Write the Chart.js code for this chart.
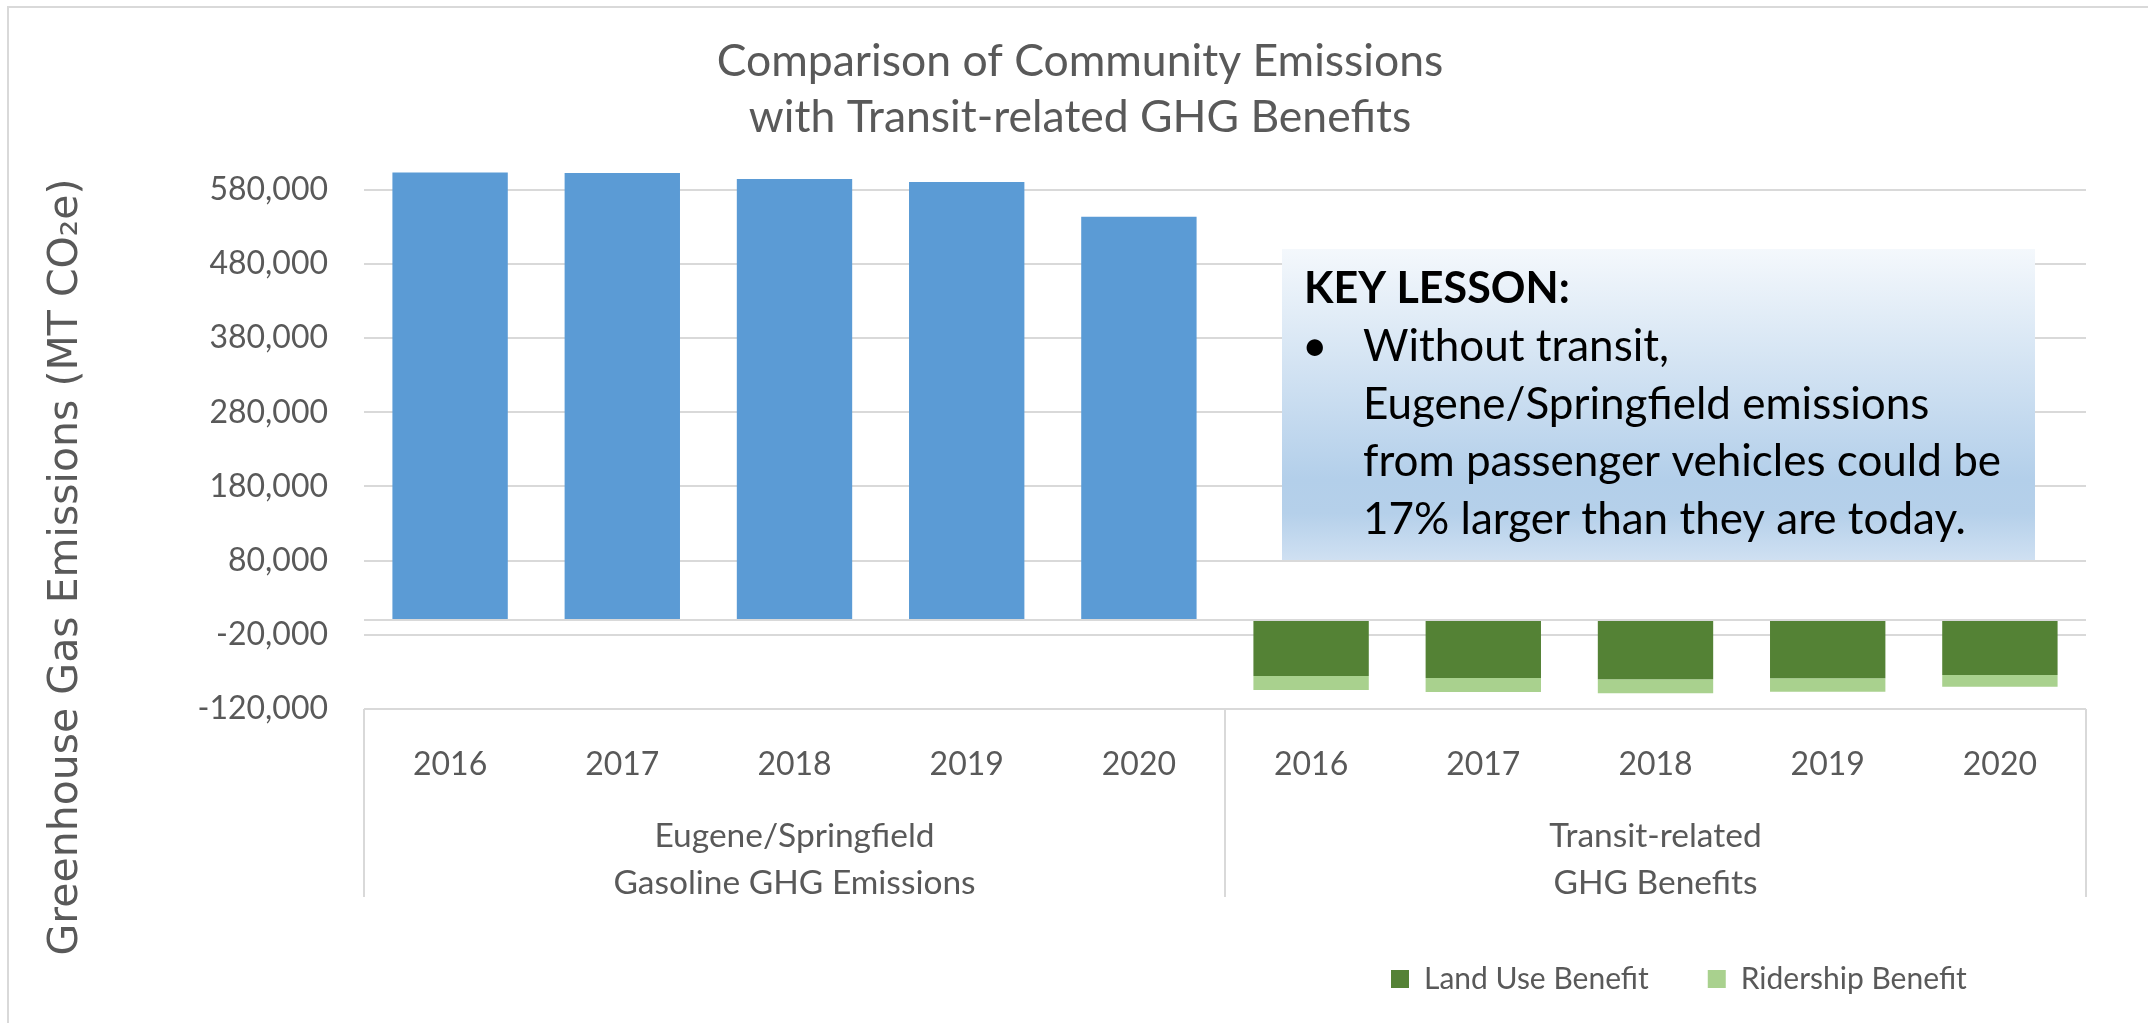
<!DOCTYPE html>
<html>
<head>
<meta charset="utf-8">
<script src="https://cdn.jsdelivr.net/npm/chart.js@4.4.1/dist/chart.umd.min.js"></script>
<style>
html, body { margin: 0; padding: 0; background: #fff; }
#wrap { position: relative; width: 2148px; height: 1023px; }
</style>
</head>
<body>
<div id="wrap"><canvas id="ghgChart"></canvas></div>
<script>
const years = ['2016', '2017', '2018', '2019', '2020', '2016', '2017', '2018', '2019', '2020'];
const groupLabels = ['', '', ['Eugene/Springfield', 'Gasoline GHG Emissions'], '', '', '', '', ['Transit-related', 'GHG Benefits'], '', ''];
const gasolineEmissions = [603300, 602500, 594400, 590400, 543600, null, null, null, null, null];
const landUseBenefit = [null, null, null, null, null, -75500, -78200, -80000, -78600, -74200];
const ridershipBenefit = [null, null, null, null, null, -18900, -18900, -18900, -18000, -15800];
const yTicks = [-120000, -20000, 80000, 180000, 280000, 380000, 480000, 580000];
const titleLines = ['Comparison of Community Emissions', 'with Transit-related GHG Benefits'];
const yTitle = 'Greenhouse Gas Emissions (MT CO\u2082e)';
const lessonHead = 'KEY LESSON:';
const lessonLines = ['Without transit,', 'Eugene/Springfield emissions', 'from passenger vehicles could be', '17% larger than they are today.'];

const grey = '#595959';
const lineGrey = '#d9d9d9';
const legendGap = 59;
const legendFont = 30;

Chart.defaults.font.family = 'Lato';
Chart.defaults.color = grey;

// frame, callout box, axis title and category box lines
const decorPlugin = {
    id: 'decor',
    afterLayout(chart) {
        chart.legend.left = 1391 - legendGap;
        chart.legend.top = 979 - legendGap - legendFont / 2;
    },
    beforeDraw(chart) {
        const ctx = chart.ctx;
        ctx.save();
        ctx.strokeStyle = lineGrey;
        ctx.lineWidth = 2;
        ctx.strokeRect(8, 7, chart.width + 20, chart.height + 20);
        ctx.restore();
    },
    afterDatasetsDraw(chart) {
        const ctx = chart.ctx;
        ctx.save();
        let g = ctx.createLinearGradient(0, 249, 0, 560);
        g.addColorStop(0, '#f4f8fc');
        g.addColorStop(0.74, '#b3cfea');
        g.addColorStop(0.85, '#b5d0ea');
        g.addColorStop(1, '#cfe0f2');
        ctx.fillStyle = g;
        ctx.fillRect(1282, 249, 753, 311);

        ctx.fillStyle = '#000';
        ctx.textBaseline = 'alphabetic';
        ctx.textAlign = 'left';
        ctx.font = 'bold 43px Lato';
        ctx.fillText(lessonHead, 1304, 303);
        ctx.font = '44px Lato';
        ctx.fillText('\u2022', 1302, 361);
        lessonLines.forEach(function (line, i) {
            ctx.fillText(line, 1363, 361 + i * 57.5);
        });
        ctx.restore();
    },
    afterDraw(chart) {
        const ctx = chart.ctx;
        const area = chart.chartArea;
        const x = chart.scales.x;
        ctx.save();
        ctx.strokeStyle = lineGrey;
        ctx.lineWidth = 2;
        const mid = (x.getPixelForValue(4) + x.getPixelForValue(5)) / 2;
        [area.left, mid, area.right].forEach(function (px) {
            ctx.beginPath();
            ctx.moveTo(px, area.bottom);
            ctx.lineTo(px, 897);
            ctx.stroke();
        });

        ctx.translate(66, 567);
        ctx.rotate(-Math.PI / 2);
        ctx.fillStyle = grey;
        ctx.font = '41px "DejaVu Sans"';
        ctx.textAlign = 'center';
        ctx.textBaseline = 'middle';
        ctx.fillText(yTitle, 0, 0);
        ctx.restore();
    }
};

const ctx = document.getElementById('ghgChart').getContext('2d');
const ghgChart = new Chart(ctx, {
    type: 'bar',
    data: {
        labels: years,
        datasets: [{
            label: 'Gasoline GHG Emissions',
            data: gasolineEmissions,
            backgroundColor: '#5b9bd5'
        }, {
            label: 'Land Use Benefit',
            data: landUseBenefit,
            backgroundColor: '#548235'
        }, {
            label: 'Ridership Benefit',
            data: ridershipBenefit,
            backgroundColor: '#a9d18e'
        }]
    },
    options: {
        responsive: true,
        maintainAspectRatio: false,
        devicePixelRatio: 1,
        animation: false,
        barPercentage: 0.67,
        categoryPercentage: 1.0,
        layout: {
            padding: { left: 12, right: 0, top: 0, bottom: 25 }
        },
        plugins: {
            tooltip: { enabled: false },
            title: {
                display: true,
                text: titleLines,
                color: grey,
                font: { size: 44.5, weight: 'normal', lineHeight: 56 / 44.5 },
                padding: { top: 34, bottom: 14 }
            },
            legend: {
                position: 'bottom',
                align: 'start',
                labels: {
                    boxWidth: 18,
                    boxHeight: 18,
                    padding: legendGap,
                    color: grey,
                    font: { size: legendFont },
                    filter: function (item) { return item.datasetIndex > 0; }
                }
            }
        },
        scales: {
            x: {
                stacked: true,
                grid: { display: false },
                border: { display: false },
                ticks: {
                    autoSkip: false,
                    maxRotation: 0,
                    padding: 28.8,
                    font: { size: 32 },
                    color: grey
                },
                afterFit: function (scale) { scale.height = 70; }
            },
            x2: {
                type: 'category',
                position: 'bottom',
                labels: groupLabels,
                grid: { display: false },
                border: { display: false },
                ticks: {
                    autoSkip: false,
                    maxRotation: 0,
                    padding: 25.5,
                    font: { size: 33.5, lineHeight: 47 / 33.5 },
                    color: grey
                },
                afterFit: function (scale) { scale.height = 120; }
            },
            y: {
                stacked: true,
                min: -120000,
                max: 620000,
                grid: { color: lineGrey, lineWidth: 2, drawTicks: false },
                border: { display: false },
                ticks: {
                    padding: 36,
                    font: { size: 32 },
                    color: grey,
                    callback: function (value) {
                        return value === 0 ? '' : value.toLocaleString('en-US');
                    }
                },
                afterBuildTicks: function (scale) {
                    scale.ticks = yTicks.concat([0]).map(v => ({ value: v }));
                },
                afterFit: function (scale) { scale.width = 352; }
            },
            yRight: {
                type: 'linear',
                position: 'right',
                grid: { display: false },
                border: { display: false },
                ticks: { display: false },
                afterFit: function (scale) { scale.width = 62; }
            }
        }
    },
    plugins: [decorPlugin]
});
</script>
</body>
</html>
